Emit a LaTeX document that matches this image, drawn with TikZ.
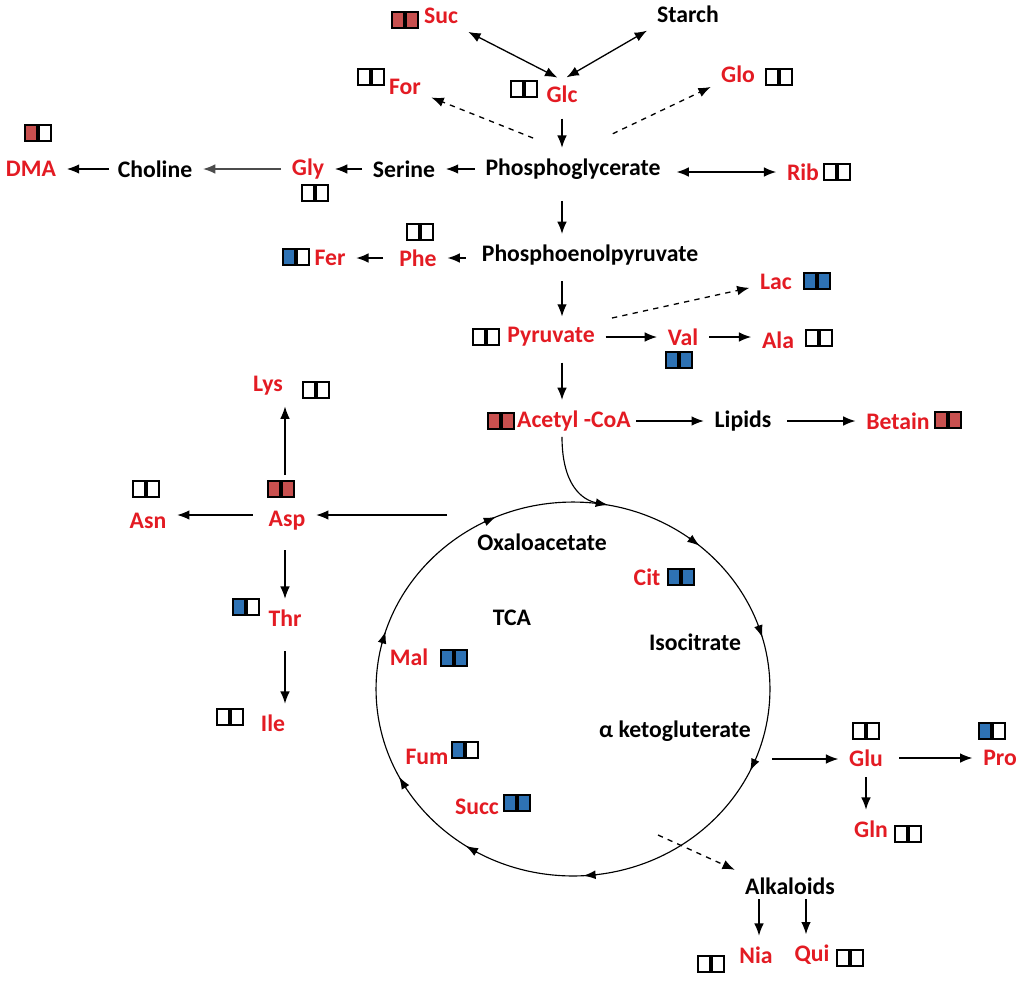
\documentclass[tikz,border=0pt]{standalone}
\usepackage{fontspec}
\setmainfont{Carlito}
\usetikzlibrary{arrows.meta}

\definecolor{mred}{HTML}{E31B23}
\definecolor{boxred}{HTML}{C8504F}
\definecolor{boxblue}{HTML}{2E72B4}

\tikzset{
  lbl/.style={font=\fontsize{13.5}{15}\selectfont\bfseries, inner sep=3pt},
  blk/.style={lbl},
  rd/.style={lbl, text=mred},
  sq/.style={draw, line width=0.6pt, minimum width=0.24cm, minimum height=0.32cm, inner sep=0pt},
  link/.style={-{Latex[length=7pt,width=5.5pt]}, line width=0.75pt, shorten <=3pt, shorten >=3pt},
  both/.style={link, {Latex[length=7pt,width=5.5pt]}-{Latex[length=7pt,width=5.5pt]}},
  dlink/.style={link, dashed},
}

% pair of marks: name, x, y, left fill, right fill
\newcommand{\pairmarks}[5]{%
  \node[sq, fill=#4] (#1-l) at ({#2-7},#3) {};
  \node[sq, fill=#5] (#1-r) at ({#2+7},#3) {};
}

\begin{document}
\begin{tikzpicture}[x=0.02cm, y=-0.02cm]
\useasboundingbox (0,0) rectangle (1024,981);

% sugars
\node[blk] (starch) at (688,14) {Starch};
\node[rd] (suc) at (441,16) {Suc};
\node[rd] (glc) at (562,94) {Glc};
\node[rd] (for) at (405,87) {For};
\node[rd] (glo) at (738,74) {Glo};
\node[blk] (pga) at (573,169) {Phosphoglycerate};
\node[rd] (rib) at (803,172) {Rib};
\node[blk] (ser) at (404,169) {Serine};
\node[rd] (gly) at (308,169) {Gly};
\node[blk] (cho) at (155,169) {Choline};
\node[rd] (dma) at (31,169) {DMA};
\node[blk] (pep) at (590,255) {Phosphoenolpyruvate};
\node[rd] (phe) at (418,258) {Phe};
\node[rd] (fer) at (330,258) {Fer};
\node[rd] (lac) at (776,282) {Lac};
\node[rd] (pyr) at (551,337) {Pyruvate};
\node[rd] (val) at (683,337) {Val};
\node[rd] (ala) at (778,340) {Ala};
\node[rd] (aco) at (574,421) {Acetyl -CoA};
\node[blk] (lip) at (743,421) {Lipids};
\node[rd] (bet) at (898,421) {Betain};

% aspartate branch
\node[rd] (lys) at (268,386) {Lys};
\node[rd] (asp) at (287,521) {Asp};
\node[rd] (asn) at (148,521) {Asn};
\node[rd] (thr) at (285,618) {Thr};
\node[rd] (ile) at (273,723) {Ile};

% TCA cycle
\node[blk] (oxa) at (542,542) {Oxaloacetate};
\node[rd] (cit) at (647,577) {Cit};
\node[blk] (tca) at (512,618) {TCA};
\node[blk] (iso) at (695,642) {Isocitrate};
\node[rd] (mal) at (409,657) {Mal};
\node[blk] (akg) at (675,731) {α ketogluterate};
\node[rd] (fum) at (427,757) {Fum};
\node[rd] (succ) at (477,807) {Succ};

% glutamate and alkaloids
\node[rd] (glu) at (866,758) {Glu};
\node[rd] (pro) at (1000,758) {Pro};
\node[rd] (gln) at (871,829) {Gln};
\node[blk] (alk) at (790,886) {Alkaloids};
\node[rd] (nia) at (756,955) {Nia};
\node[rd] (qui) at (812,955) {Qui};

% marks
\pairmarks{suc}{405}{20}{boxred}{boxred}
\pairmarks{glc}{524}{89}{white}{white}
\pairmarks{for}{371}{77}{white}{white}
\pairmarks{glo}{779}{77}{white}{white}
\pairmarks{rib}{837}{172}{white}{white}
\pairmarks{gly}{315}{193}{white}{white}
\pairmarks{dma}{38}{133}{boxred}{white}
\pairmarks{phe}{420}{232}{white}{white}
\pairmarks{fer}{296}{257}{boxblue}{white}
\pairmarks{lac}{817}{281}{boxblue}{boxblue}
\pairmarks{pyr}{486}{337}{white}{white}
\pairmarks{val}{679}{360}{boxblue}{boxblue}
\pairmarks{ala}{819}{338}{white}{white}
\pairmarks{aco}{501}{421}{boxred}{boxred}
\pairmarks{bet}{948}{420}{boxred}{boxred}
\pairmarks{lys}{316}{390}{white}{white}
\pairmarks{asp}{281}{489}{boxred}{boxred}
\pairmarks{asn}{146}{489}{white}{white}
\pairmarks{thr}{246}{607}{boxblue}{white}
\pairmarks{ile}{230}{717}{white}{white}
\pairmarks{cit}{681}{577}{boxblue}{boxblue}
\pairmarks{mal}{454}{658}{boxblue}{boxblue}
\pairmarks{fum}{465}{750}{boxblue}{white}
\pairmarks{succ}{517}{803}{boxblue}{boxblue}
\pairmarks{glu}{866}{731}{white}{white}
\pairmarks{pro}{992}{731}{boxblue}{white}
\pairmarks{gln}{908}{834}{white}{white}
\pairmarks{nia}{711}{964}{white}{white}
\pairmarks{qui}{850}{958}{white}{white}

% glycolysis
\draw[both] (suc.south east) -- (glc.north);
\draw[both] (starch.south west) -- (glc.north);
\coordinate (fo0) at (538,140);
\coordinate (gl0) at (608,136);
\draw[dlink] (fo0) -- (for);
\draw[dlink] (gl0) -- (glo);
\draw[link, shorten <=6pt] (glc) -- (glc |- pga.north);
\draw[both, shorten <=6pt] (pga.east |- rib) -- (rib);
\draw[link] (pga.west |- ser) -- (ser);
\draw[link] (ser) -- (gly);
\draw[link, black!70] (gly) -- (cho);
\draw[link, shorten <=2pt] (cho) -- (dma);
\draw[link, shorten <=9pt] (glc |- pga.south) -- (glc |- pep.north);
\draw[link, shorten <=6pt] (pep.west |- phe) -- (phe);
\draw[link, shorten <=6pt] (phe) -- (fer);
\draw[link, shorten <=6pt] (glc |- pep.south) -- (glc |- pyr.north);
\coordinate (la0) at (612,318);
\draw[dlink, shorten <=0pt] (la0) -- (lac);
\draw[link] (pyr.east |- val) -- (val);
\draw[link] (val) -- (val -| ala.west);
\draw[link, shorten <=6pt] (glc |- pyr.south) -- (glc |- aco.north);
\draw[link, shorten <=0pt] (aco) -- (lip);
\draw[link, shorten <=6pt] (lip) -- (bet);

% cycle
\draw[line width=0.65pt] (573,689) ellipse [x radius=3.94cm, y radius=3.74cm];
\foreach \a in {113,50,16,-26,-87,-123,-152,162}
  \draw[-{Latex[length=7pt,width=5pt]}, line width=0.65pt]
    ({573+197*cos(\a+4)},{689-187*sin(\a+4)}) -- ({573+197*cos(\a)},{689-187*sin(\a)});
\draw[-{Latex[length=7pt,width=5pt]}, line width=0.65pt]
  (glc |- aco.south) .. controls (562,485) and (582,500) .. (608,505);

% aspartate
\coordinate (ox0) at (447,515);
\draw[link, shorten <=0pt] (ox0) -- (ox0 -| asp.east);
\draw[link, shorten <=6pt] (asp.west |- ox0) -- (ox0 -| asn.east);
\draw[link] (thr |- asp-l.north) -- (thr |- lys.south);
\draw[link, shorten <=8pt] (thr |- asp.south) -- (thr);
\draw[link, shorten <=11pt] (thr) -- (thr |- ile.north);

% glutamate
\coordinate (gu0) at (772,759);
\draw[link, shorten <=0pt] (gu0) -- (gu0 -| glu.west);
\draw[link, shorten <=6pt] (glu) -- (pro);
\draw[link] (glu) -- (glu |- gln.north);

% alkaloids
\coordinate (ak0) at (658,835);
\draw[dlink, shorten <=0pt] (ak0) -- (alk.north west);
\coordinate (n0) at (759,899);
\coordinate (q0) at (806,899);
\draw[link, shorten <=0pt] (n0) -- (n0 |- nia.north);
\draw[link, shorten <=0pt] (q0) -- (q0 |- qui.north);
\end{tikzpicture}
\end{document}
